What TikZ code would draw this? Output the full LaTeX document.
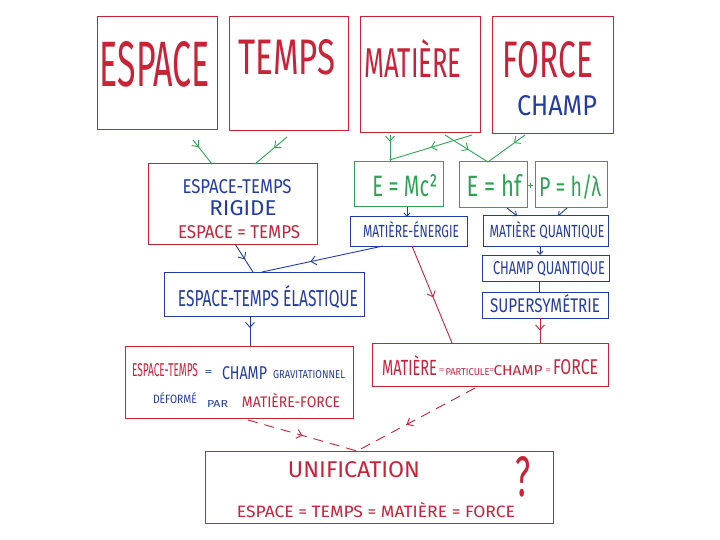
\documentclass[tikz,border=0pt]{standalone}
\usepackage{fontspec}
\setmainfont{Fira Sans}
\usetikzlibrary{arrows.meta,decorations.markings,calc}
\definecolor{hred}{RGB}{200,35,55}
\definecolor{hblue}{RGB}{35,60,165}
\definecolor{hgreen}{RGB}{45,165,85}
\newcommand\hw[3]{\resizebox{#1pt}{#2pt}{#3}}
\begin{document}
\begin{tikzpicture}[x=1pt,y=-1pt,
  box/.style={draw, line width=1pt, inner sep=0pt, outer sep=0pt},
  rbox/.style={box, draw=hred},
  bbox/.style={box, draw=hblue},
  gbox/.style={box, draw=hgreen},
  txt/.style={inner sep=0pt, outer sep=0pt},
  midarrow/.style={postaction={decorate}, decoration={markings, mark=at position #1 with {\arrow{Straight Barb[length=5pt,width=9pt]}}}},
  midarrow/.default=0.5,
  conn/.style={line width=0.9pt},
  endtip/.style={-{Straight Barb[length=3.5pt,width=6pt]}},
  dashconn/.style={conn, dash pattern=on 10pt off 7pt},
]
\fill[white] (0,0) rectangle (720,540);
\useasboundingbox (0,0) rectangle (720,540);

% top boxes
\node[rbox, minimum width=120pt, minimum height=113pt] (esp) at (157,73.5) {};
\node[rbox, minimum width=119pt, minimum height=114pt] (tps) at (288.5,74) {};
\node[rbox, minimum width=120pt, minimum height=116pt] (mat) at (420,75) {};
\node[rbox, minimum width=121pt, minimum height=117pt] (frc) at (552.5,75.5) {};
\node[txt, text=hred] (tesp) at (155,64.5) {\hw{110}{45}{ESPACE}};
\node[txt, text=hred] (ttps) at (287,57) {\hw{97}{35}{TEMPS}};
\node[txt, text=hred] (tmat) at (413,59) {\hw{97}{38}{MATIÈRE}};
\node[txt, text=hred] (tfrc) at (548,60) {\hw{90}{36}{FORCE}};
\node[txt, text=hblue] (tchamp) at (557,106) {\hw{80}{20}{CHAMP}};

% rigid
\node[rbox, minimum width=169pt, minimum height=80pt] (rig) at (232.5,204) {};
\node[txt, text=hblue] (trig1) at (237,187) {\hw{109}{14}{ESPACE-TEMPS}};
\node[txt, text=hblue] (trig2) at (243,208) {\hw{67}{15}{RIGIDE}};
\node[txt, text=hred] (trig3) at (239,232) {\hw{122}{13}{ESPACE = TEMPS}};

% green boxes
\node[gbox, minimum width=89pt, minimum height=45pt] (emc) at (398.5,184.5) {};
\node[gbox, minimum width=68pt, minimum height=46pt] (ehf) at (493,185) {};
\node[gbox, minimum width=72pt, minimum height=46pt] (phl) at (571,185) {};
\node[txt, text=hgreen] (temc) at (405,186) {\hw{65}{22}{E = Mc²}};
\node[txt, text=hgreen] (tehf) at (494,186) {\hw{55}{22}{E = hf}};
\node[txt, text=hgreen] (tplus) at (530.5,187) {\hw{7}{7}{+}};
\node[txt, text=hgreen] (tphl) at (570,187) {\hw{62}{22}{P = h/λ}};

% blue small boxes
\node[bbox, minimum width=117pt, minimum height=29pt] (men) at (408.5,231.5) {};
\node[bbox, minimum width=125pt, minimum height=30pt] (mqu) at (545.5,231) {};
\node[bbox, minimum width=127pt, minimum height=26pt] (cqu) at (545.5,268) {};
\node[bbox, minimum width=126pt, minimum height=26pt] (sus) at (545,305) {};
\node[txt, text=hblue] (tmen) at (411,230) {\hw{96}{16}{MATIÈRE-ÉNERGIE}};
\node[txt, text=hblue] (tmqu) at (547,230) {\hw{115}{16}{MATIÈRE QUANTIQUE}};
\node[txt, text=hblue] (tcqu) at (549,269) {\hw{112}{13}{CHAMP QUANTIQUE}};
\node[txt, text=hblue] (tsus) at (545,304) {\hw{110}{18}{SUPERSYMÉTRIE}};

% elastic
\node[bbox, minimum width=200pt, minimum height=44pt] (ela) at (264,294) {};
\node[txt, text=hblue] (tela) at (268,297.5) {\hw{180}{21}{ESPACE-TEMPS ÉLASTIQUE}};

% gravitational field box
\node[rbox, minimum width=228pt, minimum height=72pt] (cgr) at (239,382) {};
\node[txt, text=hred] (tcg1) at (165,370) {\hw{66}{13}{ESPACE-TEMPS}};
\node[txt, text=hblue] (tcg2) at (208.5,373) {\hw{8}{5}{=}};
\node[txt, text=hblue] (tcg3) at (244.5,373) {\hw{45}{13}{CHAMP}};
\node[txt, text=hblue] (tcg4) at (309,375) {\hw{72}{8}{GRAVITATIONNEL}};
\node[txt, text=hblue] (tcg5) at (175,398) {\hw{44}{11}{DÉFORMÉ}};
\node[txt, text=hblue] (tcg6) at (217.5,403.5) {\hw{21}{7}{PAR}};
\node[txt, text=hred] (tcg7) at (291,401) {\hw{98}{14}{MATIÈRE-FORCE}};

% matter box
\node[rbox, minimum width=236pt, minimum height=43pt] (mpc) at (490,364.5) {};
\node[txt, text=hred] (tmp1) at (409.5,365) {\hw{55}{20}{MATIÈRE}};
\node[txt, text=hred] (tmp2) at (441.5,371) {\hw{6}{3.5}{=}};
\node[txt, text=hred] (tmp3) at (467.5,372) {\hw{44}{7}{PARTICULE}};
\node[txt, text=hred] (tmp4) at (491.5,371) {\hw{5}{3.5}{=}};
\node[txt, text=hred] (tmp5) at (518,370.5) {\hw{49}{10}{CHAMP}};
\node[txt, text=hred] (tmp6) at (548,371) {\hw{6}{3.5}{=}};
\node[txt, text=hred] (tmp7) at (575.5,367.5) {\hw{45}{15}{FORCE}};

% unification
\node[rbox, minimum width=348pt, minimum height=72pt] (uni) at (379,487) {};
\node[txt, text=hred] (tuni1) at (354,470) {\hw{132}{16}{UNIFICATION}};
\node[txt, text=hred] (tuni2) at (376,510) {\hw{278}{15}{ESPACE = TEMPS = MATIÈRE = FORCE}};
\node[txt, text=hred] (tq) at (523,477) {\hw{15}{40}{?}};

% green connectors
\begin{scope}[draw=hgreen, conn]
\draw[midarrow=0.3] ($(esp.south)+(36,10)$) -- ($(rig.north)+(-20.5,0)$);
\draw[midarrow=0.4] ($(tps.south)+(-1.5,6)$) -- ($(rig.north)+(22.5,0)$);
\draw[midarrow=0.25] ($(mat.south)+(-30,2)$) -- ($(emc.north)+(-8.5,0)$);
\draw[midarrow=0.5] ($(mat.south)+(52,2)$) -- ($(emc.north)+(-9,-2)$);
\draw[midarrow=0.55] ($(mat.south)+(25,2)$) -- ($(ehf.north)+(-5,0)$);
\draw[midarrow=0.3] ($(frc.south)+(-27.5,1)$) -- ($(ehf.north)+(-5,0)$);
\end{scope}

% blue connectors
\begin{scope}[draw=hblue, conn]
\draw[endtip] ($(emc.south)+(8.5,0)$) -- ($(men.north)+(-1.5,0)$);
\draw[endtip] ($(ehf.south)+(14,0)$) -- ($(mqu.north)+(-28.5,0)$);
\draw[endtip] ($(phl.south)+(-4,0)$) -- ($(mqu.north)+(12.5,0)$);
\draw[endtip] ($(mqu.south)+(-5.5,0)$) -- ($(cqu.north)+(-5.5,0)$);
\draw ($(cqu.south)+(-6.5,0)$) -- ($(sus.north)+(-6,0)$);
\draw[midarrow=0.6] ($(men.south)+(-25.5,0)$) -- ($(ela.north)+(-2,0)$);
\draw[midarrow=0.55] ($(rig.south)+(2.5,0)$) -- ($(ela.north)+(-11,0)$);
\draw[midarrow=0.4] ($(ela.south)+(-14,0)$) -- ($(cgr.north)+(11,0)$);
\end{scope}

% red connectors
\begin{scope}[draw=hred, conn]
\draw[midarrow=0.5] ($(sus.south)+(-5,0)$) -- ($(mpc.north)+(50,0)$);
\draw[midarrow=0.53] ($(men.south)+(3.5,0)$) -- ($(mpc.north)+(-38,0)$);
\draw[dashconn, midarrow=0.5] ($(cgr.south)+(9,2)$) -- ($(uni.north)+(-22,0)$);
\draw[dashconn, midarrow=0.58] ($(mpc.south)+(-15,2)$) -- ($(uni.north)+(-22,0)$);
\end{scope}
\end{tikzpicture}
\end{document}
